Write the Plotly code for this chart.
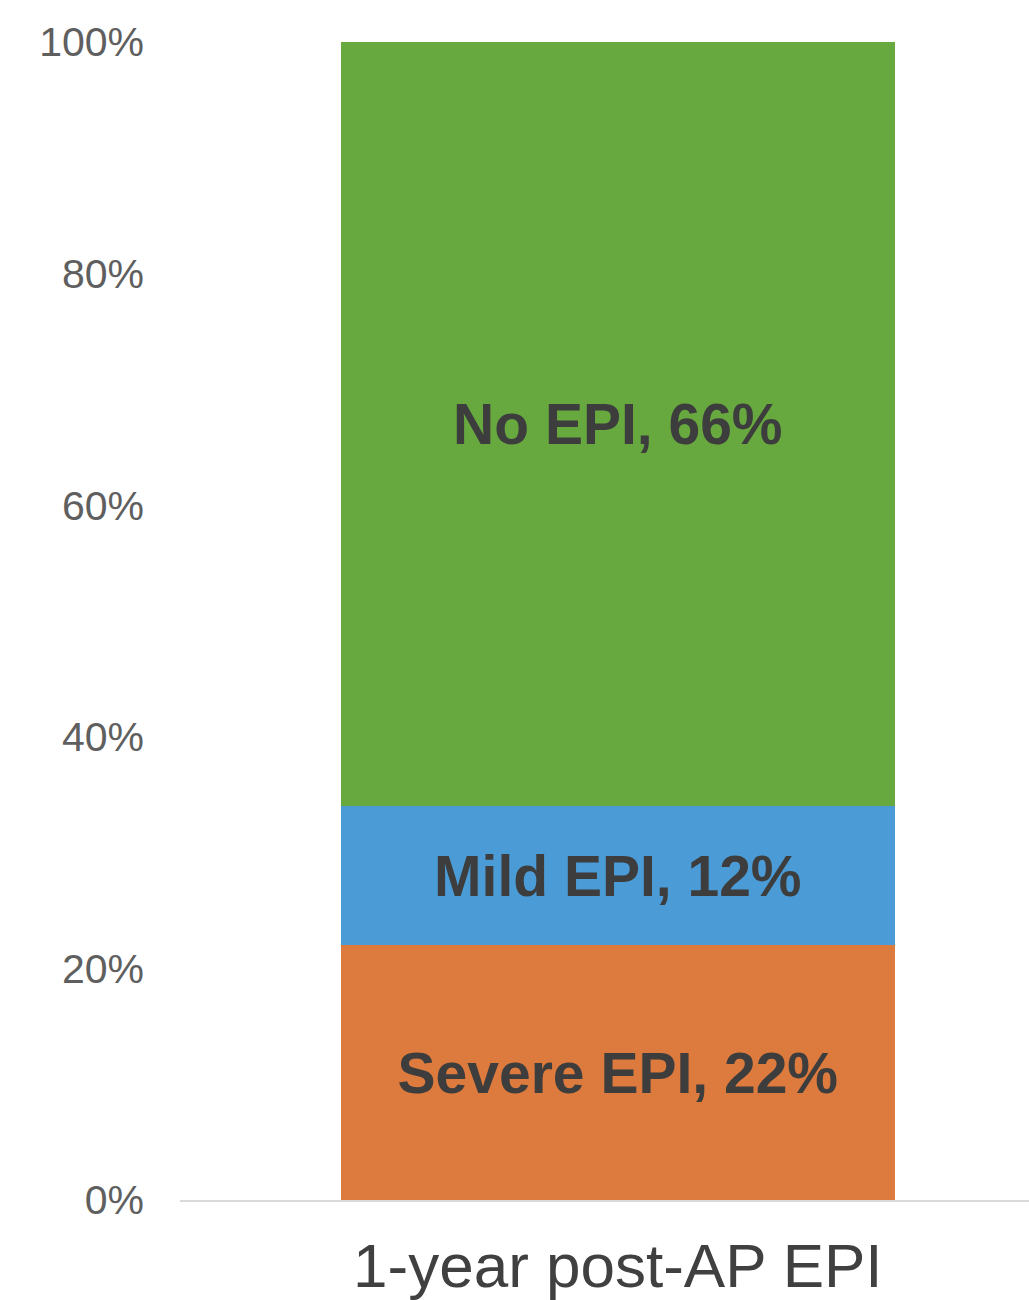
import plotly.graph_objects as go

# Share of patients by EPI status one year after acute pancreatitis
category = ["1-year post-AP EPI"]
segments = ["Severe EPI", "Mild EPI", "No EPI"]
shares = [22, 12, 66]
colors = ["#dd7a3d", "#4b9cd6", "#67a93f"]
y_ticks = [0, 20, 40, 60, 80, 100]
y_tick_labels = ["0%", "20%", "40%", "60%", "80%", "100%"]

fig = go.Figure()
for name, val, col in zip(segments, shares, colors):
    fig.add_trace(go.Bar(
        x=category,
        y=[val],
        name=name,
        marker=dict(color=col, line=dict(width=0)),
        width=1,
        text=[f"{name}, {val}%"],
        textposition="inside",
        insidetextanchor="middle",
        constraintext="none",
        textfont=dict(family="Liberation Sans, Arial, sans-serif", size=57,
                      color="#3d3d3d", weight="bold"),
        hoverinfo="skip",
    ))

fig.update_layout(
    barmode="stack",
    width=1029,
    height=1300,
    margin=dict(l=180, r=0, t=42, b=100),
    paper_bgcolor="white",
    plot_bgcolor="white",
    showlegend=False,
    font=dict(family="Liberation Sans, Arial, sans-serif", color="#595959"),
)

fig.update_xaxes(
    type="category",
    range=[-0.79, 0.742],
    showline=True,
    linecolor="#d9d9d9",
    linewidth=2,
    showgrid=False,
    ticks="",
    tickfont=dict(size=62, color="#404040"),
    ticklabelstandoff=11,
)

fig.update_yaxes(
    range=[0, 100],
    tickvals=y_ticks,
    ticktext=y_tick_labels,
    showgrid=False,
    zeroline=False,
    showline=False,
    ticks="",
    tickfont=dict(size=41, color="#5f5f5f"),
    ticklabelstandoff=35,
)

fig.write_html("out.html")
